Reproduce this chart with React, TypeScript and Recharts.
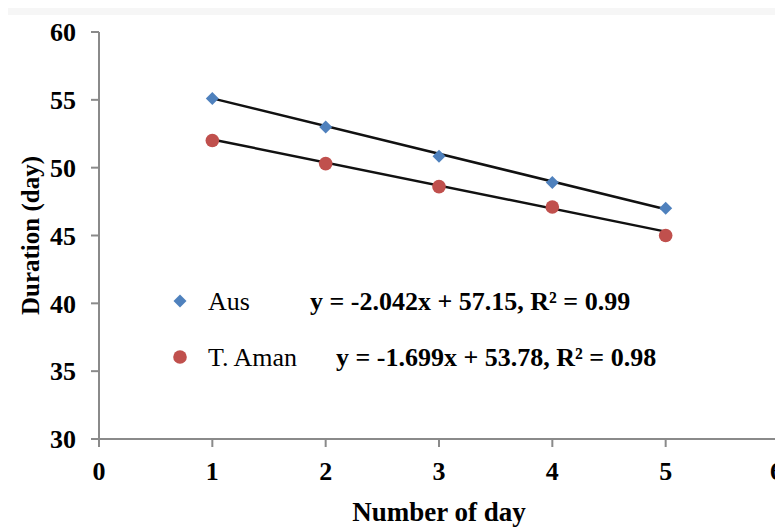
import React from 'react';
import { ComposedChart, Scatter, XAxis, YAxis, ReferenceLine } from 'recharts';

const days = [1, 2, 3, 4, 5];
const ausValues = [55.1, 53.0, 50.85, 48.9, 47.0];
const amanValues = [52.0, 50.3, 48.6, 47.1, 45.0];
const ausFit = { slope: -2.042, intercept: 57.15, r2: 0.99 };
const amanFit = { slope: -1.699, intercept: 53.78, r2: 0.98 };
const xTicks = [0, 1, 2, 3, 4, 5, 6];
const yTicks = [30, 35, 40, 45, 50, 55, 60];

const FONT = "'Liberation Serif', 'Times New Roman', serif";
const BLUE = '#4f81bd';
const RED = '#c0504d';
const AXIS = '#8a8a8a';

const ausData = days.map((d, i) => ({ x: d, y: ausValues[i] }));
const amanData = days.map((d, i) => ({ x: d, y: amanValues[i] }));
const fitSegment = (f: { slope: number; intercept: number }) => [
  { x: days[0], y: f.slope * days[0] + f.intercept },
  { x: days[days.length - 1], y: f.slope * days[days.length - 1] + f.intercept },
];
const eqText = (f: { slope: number; intercept: number; r2: number }) =>
  `y = ${f.slope.toFixed(3)}x + ${f.intercept.toFixed(2)}, R² = ${f.r2.toFixed(2)}`;

const Diamond = (props: any) => {
  const { cx, cy } = props;
  const r = 6.5;
  return <path d={`M${cx},${cy - r}L${cx + r},${cy}L${cx},${cy + r}L${cx - r},${cy}Z`} fill={BLUE} />;
};
const Dot = (props: any) => {
  const { cx, cy } = props;
  return <circle cx={cx} cy={cy} r={6.8} fill={RED} />;
};

const YLabel = (props: any) => {
  const vb = props.viewBox;
  const x = vb.x + 23;
  const y = vb.y + vb.height / 2;
  return (
    <text x={x} y={y} transform={`rotate(-90 ${x} ${y})`} textAnchor="middle" dominantBaseline="central"
      fontFamily={FONT} fontWeight="bold" fontSize={25} fill="#000">
      Duration (day)
    </text>
  );
};
const XLabel = (props: any) => {
  const vb = props.viewBox;
  return (
    <text x={vb.x + vb.width / 2} y={vb.y + 73} textAnchor="middle" dominantBaseline="central"
      fontFamily={FONT} fontWeight="bold" fontSize={27} fill="#000">
      Number of day
    </text>
  );
};

export default function App() {
  const tickStyle = { fontFamily: FONT, fontWeight: 'bold' as const, fontSize: 26, fill: '#000' };
  return (
    <div style={{ position: 'relative', margin: '-8px 0 0 -8px', width: 783, height: 527, background: '#f6f6f6', overflow: 'hidden' }}>
      <div style={{ position: 'absolute', left: 7, top: 15, width: 776, height: 512, background: '#fff' }}>
        <ComposedChart width={776} height={512} margin={{ top: 17, right: 4, bottom: 0, left: 0 }}>
          <XAxis type="number" dataKey="x" domain={[0, 6]} ticks={xTicks} allowDataOverflow
            stroke={AXIS} strokeWidth={2} tickSize={8} tickMargin={15} height={88}
            tick={tickStyle} tickLine={{ stroke: AXIS, strokeWidth: 2 }} label={<XLabel />} />
          <YAxis type="number" dataKey="y" domain={[30, 60]} ticks={yTicks} allowDataOverflow
            stroke={AXIS} strokeWidth={2} tickSize={8} tickMargin={15} width={92}
            tick={tickStyle} tickLine={{ stroke: AXIS, strokeWidth: 2 }} label={<YLabel />} />
          <Scatter data={ausData} shape={<Diamond />} isAnimationActive={false} />
          <Scatter data={amanData} shape={<Dot />} isAnimationActive={false} />
          <ReferenceLine segment={fitSegment(ausFit)} stroke="#111" strokeWidth={2.5} ifOverflow="visible" />
          <ReferenceLine segment={fitSegment(amanFit)} stroke="#111" strokeWidth={2.5} ifOverflow="visible" />
        </ComposedChart>
      </div>
      <svg width={783} height={527} style={{ position: 'absolute', left: 0, top: 0, pointerEvents: 'none' }}>
        <path d="M180,294.5L186.5,301L180,307.5L173.5,301Z" fill={BLUE} />
        <text x={208} y={301} dominantBaseline="central" fontFamily={FONT} fontSize={26} fill="#000">Aus</text>
        <text x={310} y={301} dominantBaseline="central" fontFamily={FONT} fontWeight="bold" fontSize={26} fill="#000">{eqText(ausFit)}</text>
        <circle cx={180} cy={357} r={6.8} fill={RED} />
        <text x={208} y={357} dominantBaseline="central" fontFamily={FONT} fontSize={26} fill="#000">T. Aman</text>
        <text x={336} y={357} dominantBaseline="central" fontFamily={FONT} fontWeight="bold" fontSize={26} fill="#000">{eqText(amanFit)}</text>
      </svg>
    </div>
  );
}
